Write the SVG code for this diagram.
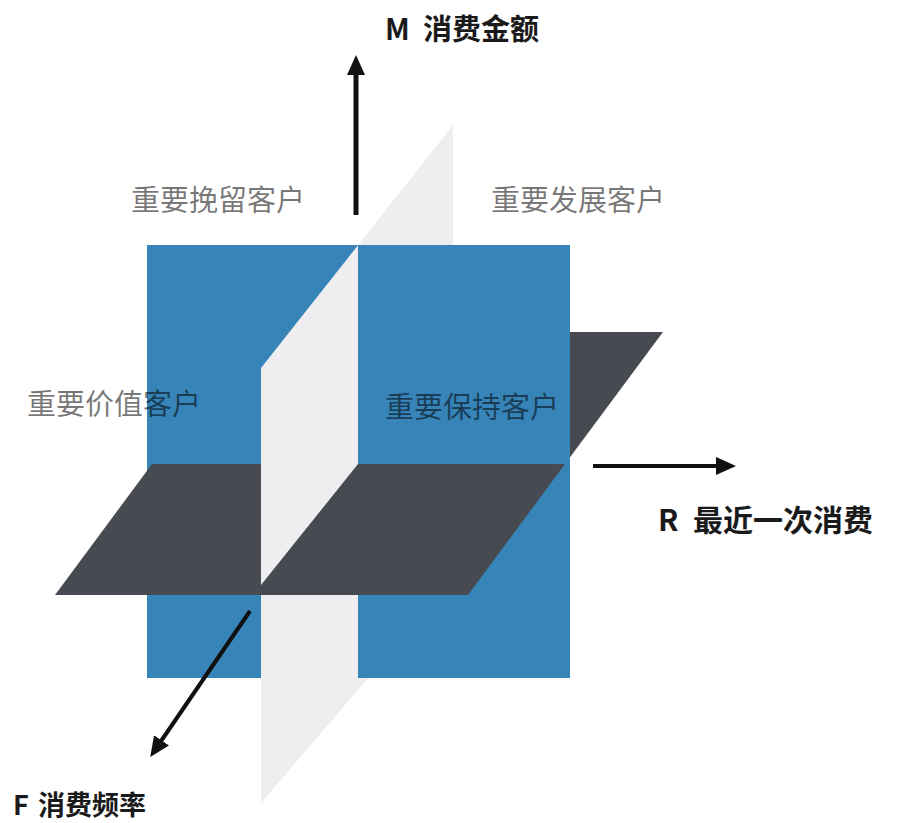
<svg xmlns="http://www.w3.org/2000/svg" width="915" height="823" viewBox="0 0 915 823">
  <style>
    .blue { fill: #3784b8; }
    .dark { fill: #474b51; }
    .light { fill: #eeeef1; }
    .axis { stroke: #111; fill: none; }
    .axislbl { font-family: "Noto Sans CJK SC", "Noto Sans", sans-serif; font-weight: bold; fill: #1a1a1a; }
    .quad { font-family: "Noto Sans CJK SC", "Noto Sans", sans-serif; font-size: 29px; fill: #000; fill-opacity: 0.53; }
  </style>
  <defs>
    <marker id="head" viewBox="0 -10 20 20" refX="8" refY="0" markerUnits="userSpaceOnUse" markerWidth="20" markerHeight="20" orient="auto">
      <path d="M0,-9 L20,0 L0,9 z" fill="#111"/>
    </marker>
  </defs>
  <rect width="915" height="823" fill="#ffffff"/>

  <g id="planes">
    <polygon id="dark-back" class="dark" points="250,332 663,332 565,464 152,464"/>
    <rect id="blue-plane" class="blue" x="147" y="245" width="423" height="433"/>
    <polygon id="light-plane" class="light" points="261,368 453,125 453,578 358,690 261,803"/>
    <rect id="blue-right" class="blue" x="358" y="245" width="212" height="433"/>
    <polygon id="dark-front" class="dark" points="152,464 565,464 468,595 55,595"/>
    <polygon id="light-front" class="light" points="261,464 358,464 261,585"/>
  </g>

  <g id="connectors">
    <line id="axis-m" class="axis" x1="356" y1="215" x2="356" y2="67" stroke-width="5" marker-end="url(#head)"/>
    <line id="axis-r" class="axis" x1="593" y1="466" x2="724" y2="466" stroke-width="4" marker-end="url(#head)"/>
    <line id="axis-f" class="axis" x1="250" y1="611" x2="157" y2="747" stroke-width="4" marker-end="url(#head)"/>
  </g>

  <g id="label-m"><text class="axislbl" font-size="29" x="385" y="40">M<tspan x="423">消费金额</tspan></text></g>
  <g id="label-r"><text class="axislbl" font-size="30" x="658" y="531">R<tspan x="693">最近一次消费</tspan></text></g>
  <g id="label-f"><text class="axislbl" font-size="27" x="13" y="815">F<tspan x="38">消费频率</tspan></text></g>

  <g id="quad-retain"><text class="quad" x="131" y="211">重要挽留客户</text></g>
  <g id="quad-develop"><text class="quad" x="491" y="211">重要发展客户</text></g>
  <g id="quad-value"><text class="quad" x="27" y="415">重要价值客户</text></g>
  <g id="quad-keep"><text class="quad" x="385" y="418">重要保持客户</text></g>
</svg>
